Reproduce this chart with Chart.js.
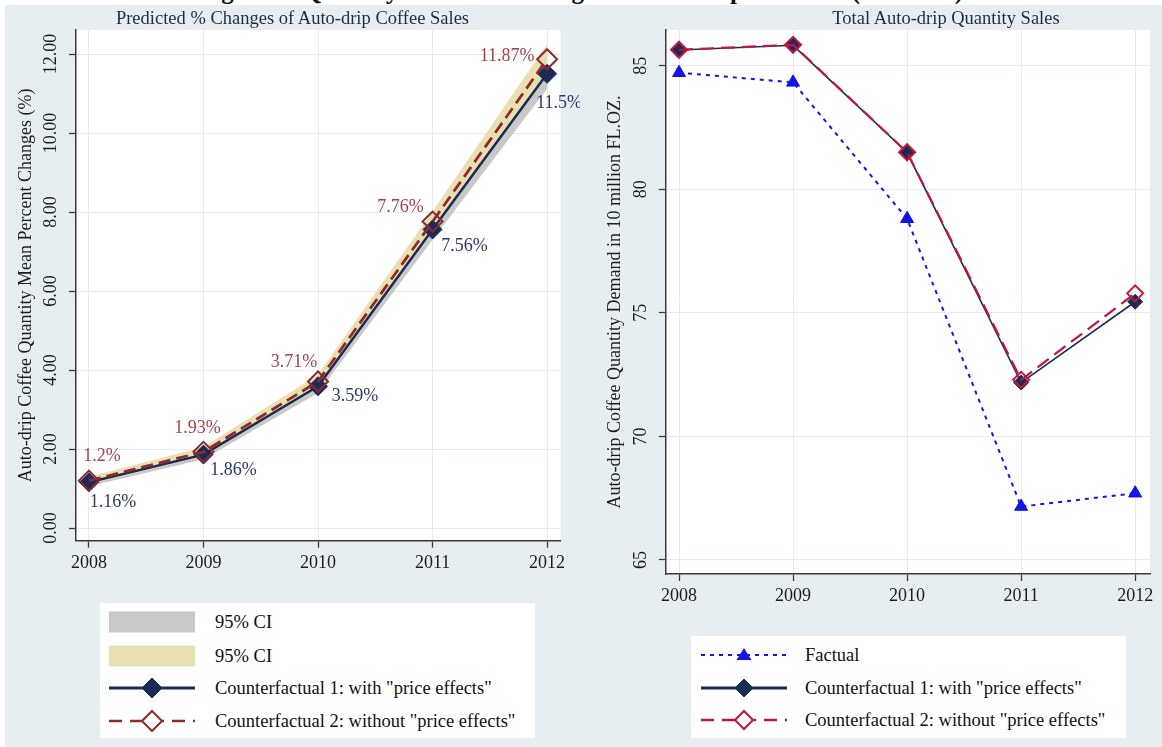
<!DOCTYPE html>
<html>
<head>
<meta charset="utf-8">
<script src="https://cdn.jsdelivr.net/npm/chart.js@4.4.1/dist/chart.umd.min.js"></script>
<style>
  html, body { margin: 0; padding: 0; background: #ffffff; }
  body { width: 1162px; height: 747px; position: relative; overflow: hidden;
         font-family: "Liberation Serif", "Times New Roman", serif; color: #222; }
  .heading { position: absolute; left: 0; width: 1162px; top: -22px; text-align: center;
             font-weight: bold; font-size: 25px; line-height: 25px; color: #111; white-space: nowrap; }
  .panel { position: absolute; background: #e7eef1; }
  .panel canvas { position: absolute; left: 0; top: 0; }
  .ptitle { position: absolute; left: 0; right: 0; text-align: center; font-size: 18.5px;
            line-height: 20px; color: #1f2b46; white-space: nowrap; }
  .legend { position: absolute; background: #ffffff; }
  .row { position: absolute; height: 30px; left: 0; right: 0; }
  .row svg { position: absolute; top: 0; }
  .row span { position: absolute; top: 0; line-height: 30px; font-size: 18.5px; color: #111; white-space: nowrap; }
</style>
</head>
<body>
<div class="heading">Figure 3: Quantity Predicted Changes of Auto-drip Products (all stores)</div>

<div class="panel" id="panelR" style="left:580px;top:5px;width:582px;height:742px;">
  <canvas id="chartR" width="582" height="742"></canvas>
  <div class="ptitle" style="top:3px;left:150px;">Total Auto-drip Quantity Sales</div>
</div>
<div class="panel" id="panelL" style="left:5px;top:5px;width:575px;height:742px;">
  <canvas id="chartL" width="575" height="742"></canvas>
  <div class="ptitle" style="top:3px;">Predicted % Changes of Auto-drip Coffee Sales</div>
</div>

<div class="legend" id="legendL" style="left:100px;top:603px;width:435px;height:135px;"></div>
<div class="legend" id="legendR" style="left:691px;top:636px;width:435px;height:102px;"></div>

<script>
// ---------- data ----------
const years = [2008, 2009, 2010, 2011, 2012];

// mean percent change in auto-drip coffee quantity
const cf1Pct = [1.16, 1.86, 3.59, 7.56, 11.5];
const cf2Pct = [1.2, 1.93, 3.71, 7.76, 11.87];
const cf1CiLow = [1.06, 1.74, 3.42, 7.30, 11.12];
const cf1CiHigh = [1.26, 1.98, 3.76, 7.82, 11.88];
const cf2CiLow = [1.10, 1.81, 3.54, 7.50, 11.49];
const cf2CiHigh = [1.30, 2.05, 3.88, 8.02, 12.25];
const pctTicks = [0, 2, 4, 6, 8, 10, 12];

// total auto-drip quantity, in 10 million fl. oz.
const factualQty = [84.72, 84.33, 78.81, 67.16, 67.70];
const cf1Qty = [85.64, 85.83, 81.49, 72.18, 75.45];
const cf2Qty = [85.65, 85.85, 81.50, 72.29, 75.79];
const qtyTicks = [65, 70, 75, 80, 85];

// ---------- style ----------
const FONT = '"Liberation Serif", "Times New Roman", serif';
const C = {
  navy: '#1b2b57',
  navyLabel: '#2b3a68',
  maroon: '#8e2a2c',
  maroonLabel: '#a2434a',
  crimson: '#c3163c',
  blue: '#1414e8',
  ciGray: '#c9c9c9',
  ciTan: '#eadfb0',
  grid: '#e6ebee',
  axis: '#3a3a3a',
  text: '#1c1c1c'
};

const pts = arr => years.map((x, i) => ({ x, y: arr[i] }));

// label placement around each marker (px offsets of the label centre)
const cf2LabelOffsets = [[13, -24], [-6, -24], [-24, -19], [-32, -14], [-40, -3]];
const cf1LabelOffsets = [[24, 20], [30, 16], [37, 10], [32, 17], [12, 29]];

// ---------- plugins ----------
const plotBackground = {
  id: 'plotBackground',
  beforeDraw(chart) {
    const { ctx, chartArea: a } = chart;
    ctx.save();
    ctx.fillStyle = '#ffffff';
    ctx.fillRect(a.left, a.top, a.right - a.left, a.bottom - a.top);
    ctx.restore();
  }
};

// tick labels (vertical ones rotated) and the y-axis title
const axisText = {
  id: 'axisText',
  afterDraw(chart, args, o) {
    const { ctx, chartArea: a } = chart;
    const xs = chart.scales.x, ys = chart.scales.y;
    ctx.save();
    ctx.fillStyle = C.text;
    ctx.font = '18px ' + FONT;
    ctx.textAlign = 'center';
    ctx.textBaseline = 'middle';
    xs.ticks.forEach(t => ctx.fillText(String(t.value), xs.getPixelForValue(t.value), a.bottom + o.xLabelGap));
    ys.ticks.forEach(t => {
      ctx.save();
      ctx.translate(a.left - o.yLabelGap, ys.getPixelForValue(t.value));
      ctx.rotate(-Math.PI / 2);
      ctx.fillText(o.yFormat(t.value), 0, 0);
      ctx.restore();
    });
    ctx.save();
    ctx.translate(o.titleX, (a.top + a.bottom) / 2);
    ctx.rotate(-Math.PI / 2);
    ctx.fillText(o.title, 0, 0);
    ctx.restore();
    ctx.restore();
  }
};

const pointLabels = {
  id: 'pointLabels',
  afterDatasetsDraw(chart, args, o) {
    const ctx = chart.ctx;
    (o.sets || []).forEach(set => {
      const meta = chart.getDatasetMeta(set.index);
      const data = chart.data.datasets[set.index].data;
      ctx.save();
      ctx.font = '18px ' + FONT;
      ctx.fillStyle = set.color;
      ctx.textAlign = 'center';
      ctx.textBaseline = 'middle';
      meta.data.forEach((el, i) => {
        const [dx, dy] = set.offsets[i];
        ctx.fillText(String(data[i].y) + '%', el.x + dx, el.y + dy);
      });
      ctx.restore();
    });
  }
};

function axes(xMin, xMax, yMin, yMax, yTicks, leftWidth) {
  const common = {
    type: 'linear',
    ticks: { display: false },
    grid: { color: C.grid, lineWidth: 1, drawTicks: true, tickLength: 7, tickColor: C.axis, tickWidth: 1.3 },
    border: { display: true, color: C.axis, width: 1.5 }
  };
  return {
    x: Object.assign({}, common, {
      min: xMin, max: xMax,
      afterBuildTicks: s => { s.ticks = years.map(v => ({ value: v })); },
      afterFit: s => { s.height = 0; }
    }),
    y: Object.assign({}, common, {
      min: yMin, max: yMax,
      afterBuildTicks: s => { s.ticks = yTicks.map(v => ({ value: v })); },
      afterFit: s => { s.width = leftWidth; }
    })
  };
}

const band = (arr, fillTarget, color, order) => ({
  data: pts(arr), borderWidth: 0, borderColor: 'rgba(0,0,0,0)', pointRadius: 0,
  backgroundColor: color, fill: fillTarget, order, tension: 0
});

// ---------- left panel ----------
new Chart(document.getElementById('chartL'), {
  type: 'line',
  data: {
    datasets: [
      band(cf1CiLow, false, C.ciGray, 6),
      band(cf1CiHigh, 0, C.ciGray, 6),
      band(cf2CiLow, false, C.ciTan, 5),
      band(cf2CiHigh, 2, C.ciTan, 5),
      {
        label: 'Counterfactual 1: with "price effects"',
        data: pts(cf1Pct), borderColor: C.navy, borderWidth: 2.5, fill: false, tension: 0,
        pointStyle: 'rectRot', pointRadius: 9.5, pointBackgroundColor: C.navy,
        pointBorderColor: C.navy, pointBorderWidth: 1, order: 2
      },
      {
        label: 'Counterfactual 2: without "price effects"',
        data: pts(cf2Pct), borderColor: C.maroon, borderWidth: 2.8, borderDash: [12, 6], fill: false, tension: 0,
        pointStyle: 'rectRot', pointRadius: 10, pointBackgroundColor: 'rgba(0,0,0,0)',
        pointBorderColor: C.maroon, pointBorderWidth: 2, order: 1
      }
    ]
  },
  options: {
    responsive: false, animation: false, devicePixelRatio: 1,
    layout: { padding: { left: 0, top: 25, right: 19.5, bottom: 206.3 } },
    plugins: {
      legend: { display: false }, tooltip: { enabled: false },
      axisText: { xLabelGap: 22.5, yLabelGap: 25, titleX: 21, yFormat: v => v.toFixed(2),
                  title: 'Auto-drip Coffee Quantity Mean Percent Changes (%)' },
      pointLabels: { sets: [
        { index: 4, color: C.navyLabel, offsets: cf1LabelOffsets },
        { index: 5, color: C.maroonLabel, offsets: cf2LabelOffsets }
      ] }
    },
    scales: axes(2007.887, 2012.117, -0.32, 12.61, pctTicks, 71)
  },
  plugins: [plotBackground, axisText, pointLabels]
});

// ---------- right panel ----------
new Chart(document.getElementById('chartR'), {
  type: 'line',
  data: {
    datasets: [
      {
        label: 'Factual',
        data: pts(factualQty), borderColor: C.blue, borderWidth: 2, borderDash: [4, 5], fill: false, tension: 0,
        pointStyle: 'triangle', pointRadius: 7.5, pointBackgroundColor: C.blue, pointBorderColor: C.blue,
        pointBorderWidth: 1, order: 3
      },
      {
        label: 'Counterfactual 1: with "price effects"',
        data: pts(cf1Qty), borderColor: C.navy, borderWidth: 1.6, fill: false, tension: 0,
        pointStyle: 'rectRot', pointRadius: 7.5, pointBackgroundColor: C.navy, pointBorderColor: C.navy,
        pointBorderWidth: 1, order: 2
      },
      {
        label: 'Counterfactual 2: without "price effects"',
        data: pts(cf2Qty), borderColor: C.crimson, borderWidth: 2.2, borderDash: [14, 7], fill: false, tension: 0,
        pointStyle: 'rectRot', pointRadius: 8, pointBackgroundColor: 'rgba(0,0,0,0)', pointBorderColor: C.crimson,
        pointBorderWidth: 2, order: 1
      }
    ]
  },
  options: {
    responsive: false, animation: false, devicePixelRatio: 1,
    layout: { padding: { left: 0, top: 25, right: 12, bottom: 173 } },
    plugins: {
      legend: { display: false }, tooltip: { enabled: false },
      axisText: { xLabelGap: 22.5, yLabelGap: 25, titleX: 35, yFormat: v => String(v),
                  title: 'Auto-drip Coffee Quantity Demand in 10 million FL.OZ.' }
    },
    scales: axes(2007.884, 2012.13, 64.43, 86.45, qtyTicks, 85.8)
  },
  plugins: [plotBackground, axisText]
});

// ---------- legends ----------
function diamond(cx, cy, r, fill, stroke, sw) {
  return `<polygon points="${cx},${cy - r} ${cx + r},${cy} ${cx},${cy + r} ${cx - r},${cy}" fill="${fill}" stroke="${stroke}" stroke-width="${sw}"/>`;
}
const sym = {
  gray: `<rect x="0" y="4.5" width="86" height="21" fill="${C.ciGray}"/>`,
  tan: `<rect x="0" y="4.5" width="86" height="21" fill="${C.ciTan}"/>`,
  cf1: r => `<line x1="0" y1="15" x2="86" y2="15" stroke="${C.navy}" stroke-width="3"/>` + diamond(43, 15, r, C.navy, C.navy, 1),
  cf2: (r, col) => `<line x1="0" y1="15" x2="86" y2="15" stroke="${col}" stroke-width="2.6" stroke-dasharray="13 8"/>` + diamond(43, 15, r, '#ffffff', col, 2),
  factual: `<line x1="0" y1="15" x2="86" y2="15" stroke="${C.blue}" stroke-width="2" stroke-dasharray="4 5"/>` +
           `<polygon points="43,8 50.5,20 35.5,20" fill="${C.blue}"/>`
};
function buildLegend(el, rows) {
  el.innerHTML = rows.map(r =>
    `<div class="row" style="top:${r.cy - 15}px"><svg width="86" height="30" style="left:${r.sx}px">${r.svg}</svg>` +
    `<span style="left:${r.tx}px">${r.text}</span></div>`).join('');
}
buildLegend(document.getElementById('legendL'), [
  { cy: 18.7, sx: 9, tx: 115, svg: sym.gray, text: '95% CI' },
  { cy: 52.7, sx: 9, tx: 115, svg: sym.tan, text: '95% CI' },
  { cy: 85.3, sx: 9, tx: 115, svg: sym.cf1(10), text: 'Counterfactual 1: with "price effects"' },
  { cy: 117.7, sx: 9, tx: 115, svg: sym.cf2(10, C.maroon), text: 'Counterfactual 2: without "price effects"' }
]);
buildLegend(document.getElementById('legendR'), [
  { cy: 19, sx: 10, tx: 114, svg: sym.factual, text: 'Factual' },
  { cy: 52, sx: 10, tx: 114, svg: sym.cf1(9), text: 'Counterfactual 1: with "price effects"' },
  { cy: 84, sx: 10, tx: 114, svg: sym.cf2(9, C.crimson), text: 'Counterfactual 2: without "price effects"' }
]);
</script>
</body>
</html>
